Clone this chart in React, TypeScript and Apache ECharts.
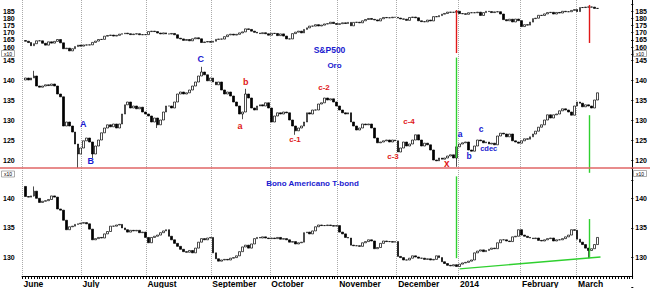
import React, { useEffect, useRef } from 'react';
import * as echarts from 'echarts';

// ---------- data ----------
const monthNames = ['June', 'July', 'August', 'September', 'October', 'November', 'December', '2014', 'February', 'March'];
const monthDays = [20, 22, 22, 20, 23, 20, 21, 21, 19, 8];
const blankSlots = 11;

// S&P500 (x10)
const spxClose = [
  164.0, 163.1, 160.9, 162.3, 164.3, 164.3, 162.6, 161.3, 163.6, 162.7, 163.9, 165.2, 162.9, 158.8, 159.2, 157.3, 158.8, 160.3, 161.3, 160.6,
  161.4, 161.4, 161.5, 163.2, 164.1, 165.2, 165.3, 167.5, 168.0, 168.3, 167.6, 168.1, 168.9, 169.2, 169.6, 169.2, 168.6, 169.0, 169.2, 168.5, 168.6, 168.6,
  170.7, 171.0, 170.7, 169.7, 169.1, 169.8, 169.1, 169.0, 169.4, 168.5, 166.1, 165.6, 164.6, 165.2, 164.3, 165.7, 166.4, 165.7, 163.1, 163.5, 163.8, 163.3,
  164.0, 165.3, 165.5, 165.5, 167.2, 168.4, 168.9, 168.3, 168.8, 169.8, 170.5, 172.6, 172.2, 171.0, 170.2, 169.7, 169.3, 169.9, 169.2, 168.2,
  169.5, 169.4, 167.9, 169.1, 167.6, 165.6, 165.6, 169.3, 170.3, 171.0, 169.8, 172.2, 173.3, 174.5, 174.5, 175.5, 174.6, 175.2, 176.0, 176.2, 177.2, 176.3, 175.7,
  176.2, 176.8, 176.3, 177.1, 174.7, 177.1, 177.2, 176.8, 178.2, 179.1, 179.8, 179.2, 178.8, 178.1, 179.6, 180.5, 180.3, 180.3, 180.7, 180.6,
  180.1, 179.5, 179.3, 178.5, 180.5, 180.8, 180.3, 178.2, 177.6, 177.5, 178.7, 178.1, 181.1, 181.0, 181.8, 182.8, 183.3, 184.2, 184.1, 184.1, 184.8,
  183.2, 183.1, 182.7, 183.8, 183.8, 183.8, 184.2, 181.9, 183.9, 184.8, 184.6, 183.9, 184.4, 184.5, 182.9, 179.0, 178.2, 179.3, 177.4, 179.4, 178.3,
  174.2, 175.5, 175.2, 177.3, 179.7, 180.0, 182.0, 181.9, 183.0, 183.9, 184.1, 182.9, 184.0, 183.6, 184.8, 184.5, 184.5, 185.4, 186.0,
  184.6, 187.4, 187.4, 187.7, 187.8, 187.7, 186.8, 186.8,
];
const spxFirstOpen = 164.5;

// Oro (gold, x10)
const goldClose = [
  140.5, 140, 140.5, 141, 138.5, 138.2, 138.5, 138.8, 138.6, 139, 138.5, 136.5, 135.8, 128.5, 129.5, 128.5, 127, 124, 121.5, 123,
  124.8, 125.5, 124.5, 121.5, 123.5, 125, 126.8, 128, 128.8, 128.3, 129, 128, 129, 131.5, 133.8, 134.5, 133, 133.5, 132.8, 133.2, 132, 131.5,
  131, 129.5, 130.5, 128.8, 130, 132, 133.5, 133.5, 133, 134.5, 136.5, 137, 136.5, 136.8, 137.5, 138.5, 139.5, 141, 142, 141.3, 139.8, 140.5,
  139.5, 138.8, 139.5, 137.5, 136.5, 137, 136, 134.5, 133.5, 131.5, 132, 136.5, 135.5, 133, 132.5, 133.5, 133.8, 133.5, 134.3, 133,
  129.5, 131, 131.8, 131.5, 132, 131.8, 130, 128.5, 127.3, 128, 128.5, 129.5, 131.8, 131.5, 132.5, 132.5, 134, 134.3, 135.5, 135, 135.3, 134.5, 133.5,
  132.5, 131.8, 131.5, 131.8, 129.5, 128.5, 127.5, 128, 129, 128.8, 129, 128, 125.5, 124.3, 124.5, 124.8, 125, 124.5, 125, 124.8,
  122, 123, 124.5, 123.5, 124, 125, 126.3, 125, 123.5, 124.2, 123.8, 122.5, 120, 119.8, 120.5, 120.2, 120.5, 121, 121.3, 120.5, 123.3,
  124, 124.3, 124.5, 122.5, 122.2, 123.5, 125, 124.8, 124.3, 124.5, 124, 124.2, 123.8, 126, 126.7, 126.5, 125.8, 126.5, 124.8, 124.5, 124.2,
  124.8, 125.3, 125.2, 125.8, 126.5, 127.2, 128.2, 128.8, 130, 131.3, 130.5, 131.3, 131.5, 132.3, 132.8, 132.5, 132, 131.2, 133.5,
  134.5, 134.2, 133.3, 133.8, 133.5, 133, 135, 136.8,
];
const goldFirstOpen = 140;
// [day index, low, high]
const goldWicks = [
  [3, 140.5, 142.3], [18, 118, 124], [23, 120.5, 124.5], [45, 128, 130.5], [60, 141, 143.3],
  [74, 130.2, 132], [75, 132, 137.8], [92, 126.3, 128.5], [147, 118.3, 123.3],
];

// Bono Americano T-bond
const bondClose = [
  140.3, 140.2, 140.4, 141.2, 140, 139.3, 139.5, 139.6, 139.8, 140.4, 140.2, 138.2, 138, 136.3, 134.7, 135.2, 135.3, 135.6, 135.7, 135.8,
  135.9, 135.7, 134.8, 133, 133.2, 133.4, 133.3, 134, 134.4, 135.3, 135.3, 135.5, 135.6, 135, 134.7, 134.3, 134.6, 134.5, 134.6, 134.2, 134.3, 133.4,
  132.5, 133.4, 133.6, 133.8, 134.2, 134.5, 134.7, 133.6, 133, 132.4, 131.9, 131.4, 131, 130.9, 131.2, 130.8, 131.6, 132.6, 133.2, 133, 133.3, 133.4,
  130.8, 129.8, 129.4, 129.6, 129.7, 129.6, 129.9, 130, 130.3, 131, 131.8, 132.1, 131.6, 132.3, 133.2, 133.4, 133.3, 133.5, 133.3, 133.2,
  133.3, 133.2, 133.4, 133.1, 133.2, 133, 132.6, 132.7, 132.3, 132.5, 132.6, 134.2, 134.3, 134, 134.5, 135.2, 135.5, 135.4, 135.4, 135.5, 135.4, 135.3, 135.4,
  134.3, 134, 133.4, 133.3, 132.1, 132, 132, 131.9, 132.5, 132.7, 133, 132.8, 131.5, 131.7, 132.4, 132.8, 132.7, 132.7, 132.6, 132.7,
  130.2, 130, 129.6, 129.6, 129.9, 130.3, 130.1, 129.9, 129.9, 129.7, 129.8, 129.6, 129.7, 130.3, 130, 129.3, 129, 128.7, 128.6, 128.8, 128.5,
  128.9, 129.1, 129.2, 129.4, 129.6, 130.8, 131.1, 131.3, 131, 131.2, 131.4, 131.6, 131.5, 132.5, 133, 133, 132.8, 132.7, 133.5, 133.6, 134.7,
  133.8, 133.6, 133.4, 133.3, 133.2, 133.3, 132.9, 132.8, 133, 133.2, 133.3, 132.8, 133, 133, 133.2, 133.5, 133.8, 134.7, 134.6,
  133.1, 132.6, 132.2, 131.6, 131.2, 131.5, 132.2, 133.4,
];
const bondFirstOpen = 142;
const bondWicks = [[3, 140.3, 142], [192, 129.9, 131.5]];

// tick labels
const spxTicks = [160, 165, 170, 175, 180, 185];
const goldTicks = [120, 125, 130, 135, 140, 145];
const bondTicks = [130, 135, 140];

// annotation lines: [day index, from value, to value]
const spxLines = [[147, 185.7, 155.8], [192, 189.2, 162.8]];
const goldLines = [[147, 145.6, 120.5], [192, 131.2, 116.8]];
const bondLines = [[147, 143.7, 129.9], [192, 136.5, 129.9]];
const bondTrend = [[148, 128.1], [196, 130.1]];
const goldSupport = 118;

// ---------- helpers ----------
const cats: string[] = [];
const monthStart: Record<number, string> = {};
monthDays.forEach((n, m) => {
  monthStart[cats.length] = monthNames[m];
  for (let d = 0; d < n; d++) cats.push(`${m}-${d}`);
});
for (let k = 0; k < blankSlots; k++) cats.push(`b${k}`);

function toCandles(closes: number[], firstOpen: number, wicks: number[][]) {
  return closes.map((c, i) => {
    const o = i === 0 ? firstOpen : closes[i - 1];
    let lo = Math.min(o, c);
    let hi = Math.max(o, c);
    const w = wicks.find((x) => x[0] === i);
    if (w) {
      lo = Math.min(lo, w[1]);
      hi = Math.max(hi, w[2]);
    }
    return [o, c, lo, hi];
  });
}

const FONT = '"Liberation Sans", Arial, sans-serif';
const L = 22;
const R = 17.3;
const BLUE = '#1a1ad0';
const RED = '#e01818';
const GREEN = '#2fd02f';

const yAxisPair = (grid: number, min: number, max: number, ticks: number[]) => {
  const base = {
    gridIndex: grid,
    type: 'value',
    min,
    max,
    interval: 5,
    splitLine: { show: false },
    axisLine: { show: false },
    axisLabel: {
      formatter: (v: number) => (ticks.includes(v) ? String(v) : ''),
      fontSize: 7,
      fontWeight: 'bold',
      color: '#000',
      fontFamily: FONT,
    },
  };
  return [
    { ...base, position: 'left', axisTick: { show: false }, axisLabel: { ...base.axisLabel, margin: 9 } },
    {
      ...base,
      position: 'right',
      axisTick: { show: true, length: 2, lineStyle: { color: '#000' } },
      axisLabel: { ...base.axisLabel, margin: 4 },
    },
  ];
};

const hiddenX = (grid: number) => ({
  gridIndex: grid,
  type: 'category',
  data: cats,
  boundaryGap: true,
  show: false,
});

const vLines = (lines: number[][]) =>
  lines.map(([i, a, b]) => [{ coord: [cats[i], a] }, { coord: [cats[i], b] }]);

const candleStyle = {
  color: '#ffffff',
  color0: '#000000',
  borderColor: '#000000',
  borderColor0: '#000000',
  borderWidth: 0.7,
};

const mark = (color: string, data: any[]) => ({
  silent: true,
  symbol: ['none', 'none'],
  label: { show: false },
  lineStyle: { color, width: 1.4, type: 'solid' },
  data,
});

const text = (t: string, x: number, y: number, fill: string, size = 8.5) => ({
  type: 'text',
  x,
  y,
  z: 50,
  style: { text: t, fill, fontSize: size, fontWeight: 'bold', fontFamily: FONT, align: 'center', verticalAlign: 'middle' },
});

const x10Box = (x: number, y: number) => ({
  type: 'group',
  z: 60,
  children: [
    { type: 'rect', shape: { x, y, width: 13, height: 6 }, style: { fill: '#fff', stroke: '#777', lineWidth: 0.6 } },
    {
      type: 'text',
      x: x + 6.5,
      y: y + 3,
      style: { text: 'x10', fill: '#000', fontSize: 5, fontFamily: FONT, align: 'center', verticalAlign: 'middle' },
    },
  ],
});

function buildOption() {
  return {
    animation: false,
    textStyle: { fontFamily: FONT },
    grid: [
      { left: L, right: R, top: 0, bottom: 11 },
      { left: L, right: R, top: 3.8, height: 50.4 },
      { left: L, right: R, top: 40, height: 140 },
      { left: L, right: R, top: 168.65, height: 118.6 },
    ],
    xAxis: [
      {
        gridIndex: 0,
        type: 'category',
        data: cats,
        boundaryGap: true,
        axisLine: { show: true, lineStyle: { color: '#000', width: 1 } },
        axisTick: { show: true, interval: 0, length: 3, lineStyle: { color: '#000' } },
        splitLine: {
          show: true,
          interval: (idx: number) => monthStart[idx] !== undefined,
          lineStyle: { color: '#aaaaaa', type: 'dotted', width: 1 },
        },
        axisLabel: {
          interval: (idx: number) => monthStart[idx] !== undefined,
          formatter: (_v: string, idx: number) => monthStart[idx] ?? '',
          align: 'left',
          margin: 3,
          fontSize: 8.5,
          fontWeight: 'bold',
          color: '#000',
          fontFamily: FONT,
        },
      },
      hiddenX(1),
      hiddenX(2),
      hiddenX(3),
    ],
    yAxis: [
      {
        gridIndex: 0,
        type: 'value',
        position: 'right',
        min: 0,
        max: 1,
        axisLine: { show: true, lineStyle: { color: '#000' } },
        axisLabel: { show: false },
        axisTick: { show: false },
        splitLine: { show: false },
      },
      ...yAxisPair(1, 155, 190, spxTicks),
      ...yAxisPair(2, 115, 150, goldTicks),
      ...yAxisPair(3, 125, 145, bondTicks),
    ],
    series: [
      {
        name: 'S&P500',
        type: 'candlestick',
        xAxisIndex: 1,
        yAxisIndex: 1,
        barWidth: 2.4,
        itemStyle: candleStyle,
        data: toCandles(spxClose, spxFirstOpen, []),
        markLine: mark(RED, vLines(spxLines)),
      },
      {
        name: 'Oro',
        type: 'candlestick',
        xAxisIndex: 2,
        yAxisIndex: 3,
        barWidth: 2.4,
        itemStyle: candleStyle,
        data: toCandles(goldClose, goldFirstOpen, goldWicks),
        markLine: mark(GREEN, vLines(goldLines)),
      },
      {
        name: 'T-bond',
        type: 'candlestick',
        xAxisIndex: 3,
        yAxisIndex: 5,
        barWidth: 2.4,
        itemStyle: candleStyle,
        data: toCandles(bondClose, bondFirstOpen, bondWicks),
        markLine: mark(GREEN, [
          ...vLines(bondLines),
          [{ coord: [cats[bondTrend[0][0]], bondTrend[0][1]] }, { coord: [cats[bondTrend[1][0]], bondTrend[1][1]] }],
        ]),
      },
    ],
    graphic: [
      text('S&P500', 329.5, 50, BLUE),
      text('Oro', 334.5, 65, BLUE, 8),
      text('A', 83.3, 124.3, BLUE, 9),
      text('B', 90.7, 160.5, BLUE, 9),
      text('C', 200.7, 59, BLUE, 9),
      text('b', 245.7, 81.7, RED, 9),
      text('a', 240, 125.5, RED, 9),
      text('c-1', 295, 139.5, RED, 8),
      text('c-2', 324, 87, RED, 8),
      text('c-3', 393, 156, RED, 8),
      text('c-4', 409, 121.7, RED, 8),
      text('x', 446.7, 163, RED, 10),
      text('a', 460, 134.3, BLUE, 8.5),
      text('b', 469, 155.5, BLUE, 8.5),
      text('c', 481, 128.5, BLUE, 8.5),
      text('cdec', 488.7, 148.5, BLUE, 7.5),
      text('Bono Americano T-bond', 312.5, 183, BLUE, 8),
      x10Box(1.5, 50.5),
      x10Box(1.5, 171),
      x10Box(633.5, 50.5),
      x10Box(633.5, 170.5),
    ],
  };
}

export default function App() {
  const ref = useRef<HTMLDivElement>(null);
  useEffect(() => {
    document.body.style.margin = '0';
    const chart = echarts.init(ref.current as HTMLDivElement, null, { renderer: 'svg' });
    const option: any = buildOption();
    chart.setOption(option);
    // support line at the gold level, spanning the full width of the picture
    const ySupport = chart.convertToPixel({ yAxisIndex: 3 }, goldSupport) as number;
    chart.setOption({
      graphic: [
        ...option.graphic,
        {
          type: 'line',
          z: 40,
          shape: { x1: 0, y1: ySupport, x2: 650, y2: ySupport },
          style: { stroke: '#e06666', lineWidth: 1.3 },
        },
      ],
    } as any);
    return () => chart.dispose();
  }, []);
  return <div ref={ref} style={{ width: 650, height: 288 }} />;
}
